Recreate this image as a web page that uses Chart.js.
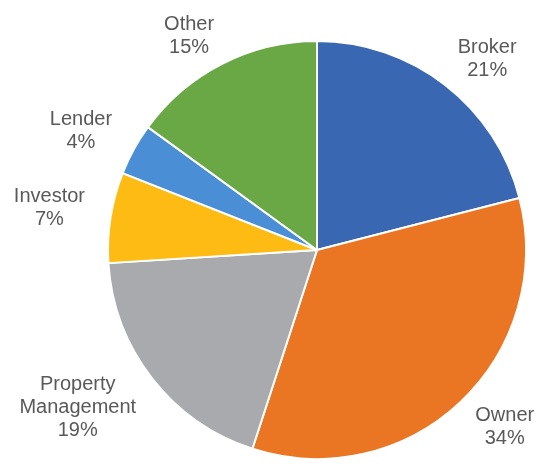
<!DOCTYPE html>
<html>
<head>
<meta charset="utf-8">
<style>
  html, body { margin: 0; padding: 0; background: #fff; }
  #wrap { width: 540px; height: 468px; }
</style>
</head>
<body>
<div id="wrap"><canvas id="pieChart" width="540" height="468"></canvas></div>

<script src="https://cdn.jsdelivr.net/npm/chart.js"></script>
<script>
const categories = ['Broker', 'Owner', 'Property Management', 'Investor', 'Lender', 'Other'];
const labelLines = [['Broker'], ['Owner'], ['Property', 'Management'], ['Investor'], ['Lender'], ['Other']];
const shares = [21, 34, 19, 7, 4, 15];
const colors = ['#3A67B1', '#EA7522', '#A9AAAD', '#FDBB14', '#4A8FD6', '#69A845'];

// signed square root, used to ease the label box offset
function ssqrt(t) { return Math.sign(t) * Math.sqrt(Math.abs(t)); }

// draws "Name / NN%" outside each slice, roughly like Excel's best fit
const outsideLabels = {
  id: 'outsideLabels',
  afterDatasetsDraw(chart) {
    const ctx = chart.ctx;
    const meta = chart.getDatasetMeta(0);
    ctx.save();
    ctx.font = '20px "Liberation Sans", Arial, sans-serif';
    ctx.fillStyle = '#595959';
    ctx.textAlign = 'center';
    ctx.textBaseline = 'middle';
    const lh = 23;
    meta.data.forEach((arc, i) => {
      const lines = labelLines[i].concat([shares[i] + '%']);
      const mid = (arc.startAngle + arc.endAngle) / 2;
      const dx = Math.cos(mid), dy = Math.sin(mid);
      let halfW = 0;
      lines.forEach(l => { halfW = Math.max(halfW, ctx.measureText(l).width / 2); });
      const halfH = lines.length * lh / 2;
      const r = arc.outerRadius;
      const cx = arc.x + (r + 18) * dx + halfW * ssqrt(dx) + 8 * Math.sign(dx);
      const cy = arc.y + (r + 12) * dy + 0.8 * halfH * ssqrt(dy);
      lines.forEach((l, k) => {
        ctx.fillText(l, cx, cy - halfH + lh / 2 + k * lh);
      });
    });
    ctx.restore();
  }
};

new Chart(document.getElementById('pieChart').getContext('2d'), {
  type: 'pie',
  data: {
    labels: categories,
    datasets: [{
      data: shares,
      backgroundColor: colors,
      borderColor: '#ffffff',
      borderWidth: 2
    }]
  },
  options: {
    responsive: false,
    animation: false,
    layout: { padding: { left: 107, right: 13, top: 40, bottom: 8 } },
    plugins: {
      legend: { display: false },
      tooltip: { enabled: false }
    }
  },
  plugins: [outsideLabels]
});
</script>
</body>
</html>
